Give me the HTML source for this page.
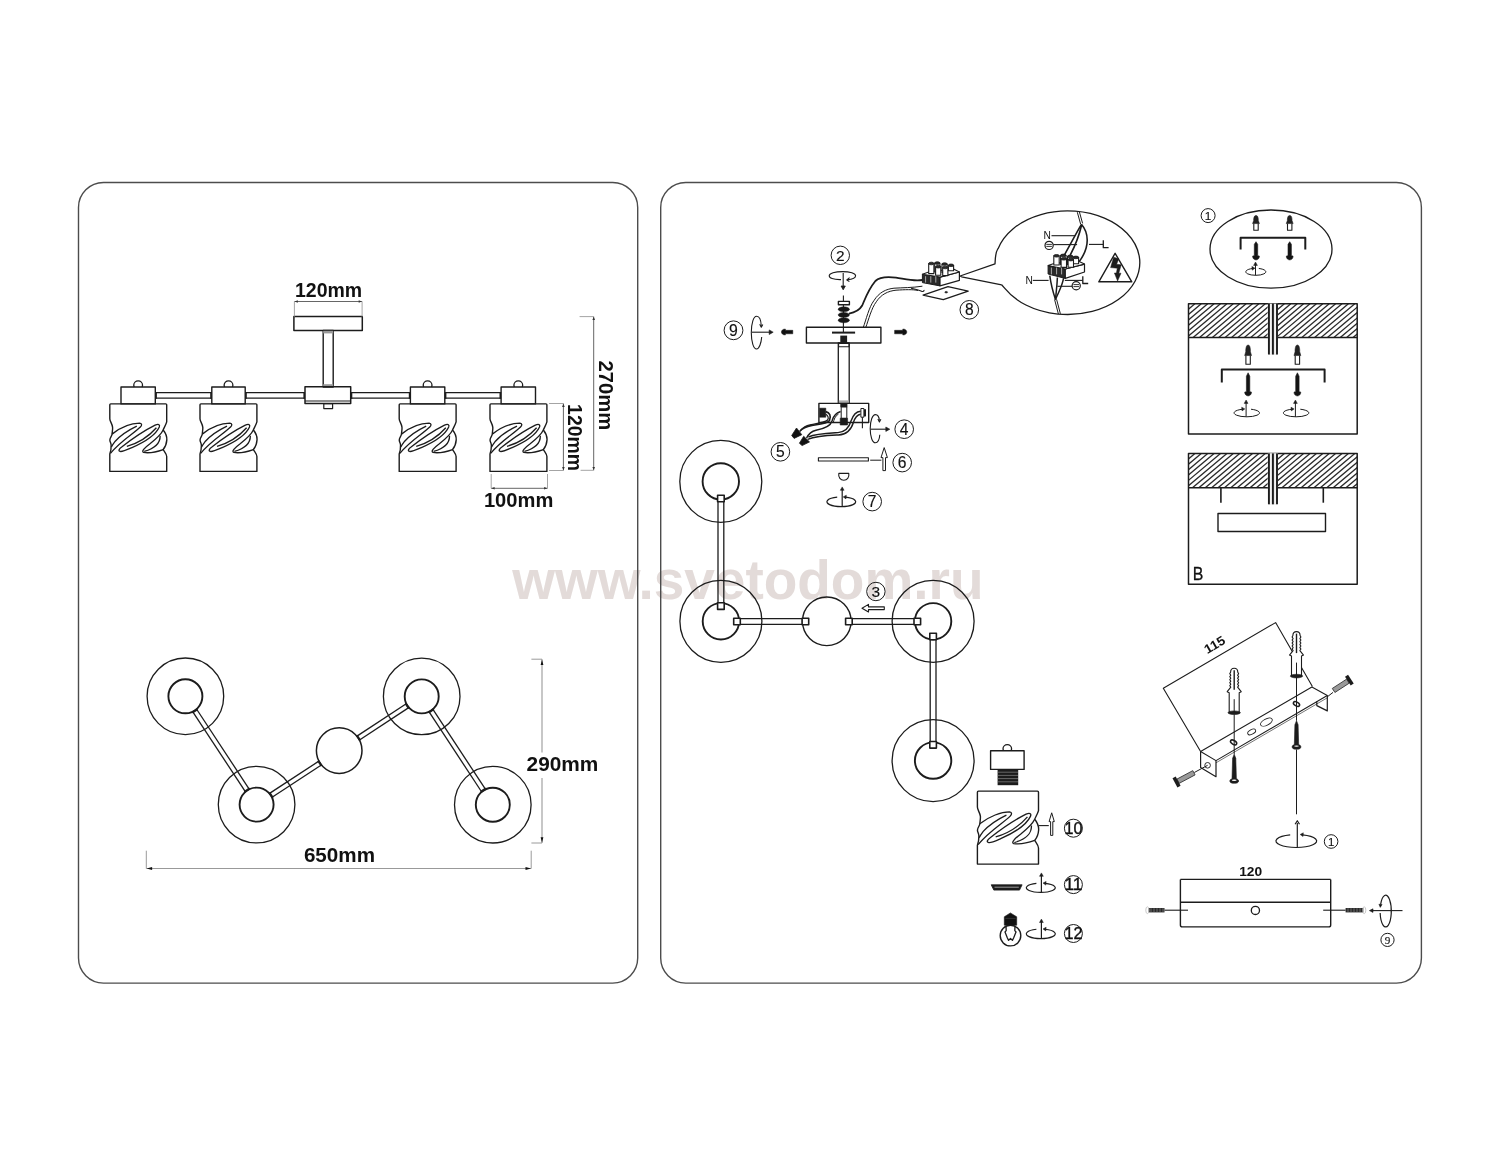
<!DOCTYPE html>
<html><head><meta charset="utf-8"><style>
html,body{margin:0;padding:0;background:#fff;}
svg{display:block;}
</style></head><body>
<svg style="will-change:transform" width="1500" height="1167" viewBox="0 0 1500 1167">
<rect width="1500" height="1167" fill="#fff"/>
<g stroke="#1c1c1c" fill="none" stroke-linecap="butt" stroke-linejoin="round">
<text x="512.3" y="598.5" font-family="&quot;Liberation Sans&quot;, sans-serif" font-size="54.6" font-weight="bold" text-anchor="start" fill="#e3dbd9" stroke="none" textLength="471.2" lengthAdjust="spacingAndGlyphs">www.svetodom.ru</text>
<rect x="78.5" y="182.5" width="559.2" height="800.6" rx="25" stroke="#4c4c4c" stroke-width="1.4"/>
<rect x="660.7" y="182.5" width="760.7" height="800.6" rx="25" stroke="#4c4c4c" stroke-width="1.4"/>
<rect x="293.9" y="316.6" width="68.4" height="13.8" stroke-width="1.5" fill="none"/>
<line x1="294.4" y1="301.5" x2="362.1" y2="301.5" stroke-width="0.9" stroke="#555"/>
<line x1="294.4" y1="301.5" x2="294.4" y2="316.6" stroke-width="0.9" stroke="#9a9a9a"/>
<line x1="362.1" y1="301.5" x2="362.1" y2="316.6" stroke-width="0.9" stroke="#9a9a9a"/>
<text x="295" y="296.5" font-family="&quot;Liberation Sans&quot;, sans-serif" font-size="19.6" font-weight="bold" text-anchor="start" fill="#111" stroke="none" textLength="67.2" lengthAdjust="spacingAndGlyphs">120mm</text>
<path d="M294.6,301.5 L297.8,300.2 L297.8,302.8 Z" fill="#333" stroke="none"/>
<path d="M361.9,301.5 L358.7,302.8 L358.7,300.2 Z" fill="#333" stroke="none"/>
<rect x="323.2" y="330.4" width="10" height="56.6" stroke-width="1.4" fill="none"/>
<rect x="323.2" y="330.8" width="10" height="2.6" stroke-width="0" fill="#999"/>
<rect x="323.2" y="384.2" width="10" height="2.6" stroke-width="0" fill="#999"/>
<rect x="305" y="386.8" width="45.7" height="16.8" stroke-width="1.5" fill="none"/>
<line x1="305" y1="401" x2="350.7" y2="401" stroke-width="1.2"/>
<rect x="323.8" y="403.6" width="8.8" height="5" stroke-width="1.2" fill="none"/>
<line x1="155.3" y1="392.7" x2="211.8" y2="392.7" stroke-width="1.3"/>
<line x1="155.3" y1="398.1" x2="211.8" y2="398.1" stroke-width="1.3"/>
<rect x="155.3" y="392" width="1.6" height="6.8" stroke-width="0" fill="#1c1c1c"/>
<rect x="210.2" y="392" width="1.6" height="6.8" stroke-width="0" fill="#1c1c1c"/>
<line x1="245.2" y1="392.7" x2="305" y2="392.7" stroke-width="1.3"/>
<line x1="245.2" y1="398.1" x2="305" y2="398.1" stroke-width="1.3"/>
<rect x="245.2" y="392" width="1.6" height="6.8" stroke-width="0" fill="#1c1c1c"/>
<rect x="303.4" y="392" width="1.6" height="6.8" stroke-width="0" fill="#1c1c1c"/>
<line x1="350.7" y1="392.7" x2="410.4" y2="392.7" stroke-width="1.3"/>
<line x1="350.7" y1="398.1" x2="410.4" y2="398.1" stroke-width="1.3"/>
<rect x="350.7" y="392" width="1.6" height="6.8" stroke-width="0" fill="#1c1c1c"/>
<rect x="408.8" y="392" width="1.6" height="6.8" stroke-width="0" fill="#1c1c1c"/>
<line x1="444.8" y1="392.7" x2="501.1" y2="392.7" stroke-width="1.3"/>
<line x1="444.8" y1="398.1" x2="501.1" y2="398.1" stroke-width="1.3"/>
<rect x="444.8" y="392" width="1.6" height="6.8" stroke-width="0" fill="#1c1c1c"/>
<rect x="499.5" y="392" width="1.6" height="6.8" stroke-width="0" fill="#1c1c1c"/>
<rect x="121" y="387" width="34.3" height="16.9" stroke-width="1.4" fill="none"/>
<path d="M134.15,387 L133.75,385.2 A4.4,4.4 0 1 1 142.55,385.2 L142.15,387" stroke-width="1.3"/>
<rect x="211.8" y="387" width="33.4" height="16.9" stroke-width="1.4" fill="none"/>
<path d="M224.5,387 L224.1,385.2 A4.4,4.4 0 1 1 232.9,385.2 L232.5,387" stroke-width="1.3"/>
<rect x="410.4" y="387" width="34.4" height="16.9" stroke-width="1.4" fill="none"/>
<path d="M423.6,387 L423.2,385.2 A4.4,4.4 0 1 1 432,385.2 L431.6,387" stroke-width="1.3"/>
<rect x="501.1" y="387" width="34.4" height="16.9" stroke-width="1.4" fill="none"/>
<path d="M514.3,387 L513.9,385.2 A4.4,4.4 0 1 1 522.7,385.2 L522.3,387" stroke-width="1.3"/>
<g transform="translate(109.8 403.9) scale(0.06429 0.06429) translate(-75 -60)">
<path d="M90,60 L945,60 Q960,60 960,75 L960,340 C950,380 920,430 905,465 C950,520 965,560 962,620 C958,680 930,740 905,770 C930,810 960,840 960,880 L960,1110 L75,1110 L75,840 C90,800 98,760 96,700 C92,660 75,650 76,620 C78,580 110,560 110,530 C115,480 122,450 118,420 C108,360 75,330 75,290 L75,75 Q75,60 90,60 Z" stroke-width="1.4" vector-effect="non-scaling-stroke"/>
<path d="M110,530 C250,420 420,360 540,360 C580,365 575,395 550,420 C450,520 250,630 85,830" stroke-width="1.33" vector-effect="non-scaling-stroke"/>
<path d="M495,405 C380,460 250,540 160,640 C130,680 110,710 100,730" stroke-width="1.33" vector-effect="non-scaling-stroke"/>
<path d="M240,800 C200,790 220,760 260,730 C400,620 600,480 780,390 C830,370 860,380 845,420 C800,520 650,640 420,740 C340,775 280,805 240,800 Z" stroke-width="1.33" vector-effect="non-scaling-stroke"/>
<path d="M340,720 C480,680 650,600 800,430" stroke-width="1.33" vector-effect="non-scaling-stroke"/>
<path d="M905,465 C870,540 800,600 700,680 C620,740 560,800 600,815 C700,830 850,790 905,770" stroke-width="1.33" vector-effect="non-scaling-stroke"/>
<path d="M858,555 C860,650 820,740 610,800" stroke-width="1.33" vector-effect="non-scaling-stroke"/>
</g>
<g transform="translate(200 403.9) scale(0.06429 0.06429) translate(-75 -60)">
<path d="M90,60 L945,60 Q960,60 960,75 L960,340 C950,380 920,430 905,465 C950,520 965,560 962,620 C958,680 930,740 905,770 C930,810 960,840 960,880 L960,1110 L75,1110 L75,840 C90,800 98,760 96,700 C92,660 75,650 76,620 C78,580 110,560 110,530 C115,480 122,450 118,420 C108,360 75,330 75,290 L75,75 Q75,60 90,60 Z" stroke-width="1.4" vector-effect="non-scaling-stroke"/>
<path d="M110,530 C250,420 420,360 540,360 C580,365 575,395 550,420 C450,520 250,630 85,830" stroke-width="1.33" vector-effect="non-scaling-stroke"/>
<path d="M495,405 C380,460 250,540 160,640 C130,680 110,710 100,730" stroke-width="1.33" vector-effect="non-scaling-stroke"/>
<path d="M240,800 C200,790 220,760 260,730 C400,620 600,480 780,390 C830,370 860,380 845,420 C800,520 650,640 420,740 C340,775 280,805 240,800 Z" stroke-width="1.33" vector-effect="non-scaling-stroke"/>
<path d="M340,720 C480,680 650,600 800,430" stroke-width="1.33" vector-effect="non-scaling-stroke"/>
<path d="M905,465 C870,540 800,600 700,680 C620,740 560,800 600,815 C700,830 850,790 905,770" stroke-width="1.33" vector-effect="non-scaling-stroke"/>
<path d="M858,555 C860,650 820,740 610,800" stroke-width="1.33" vector-effect="non-scaling-stroke"/>
</g>
<g transform="translate(399.2 403.9) scale(0.06429 0.06429) translate(-75 -60)">
<path d="M90,60 L945,60 Q960,60 960,75 L960,340 C950,380 920,430 905,465 C950,520 965,560 962,620 C958,680 930,740 905,770 C930,810 960,840 960,880 L960,1110 L75,1110 L75,840 C90,800 98,760 96,700 C92,660 75,650 76,620 C78,580 110,560 110,530 C115,480 122,450 118,420 C108,360 75,330 75,290 L75,75 Q75,60 90,60 Z" stroke-width="1.4" vector-effect="non-scaling-stroke"/>
<path d="M110,530 C250,420 420,360 540,360 C580,365 575,395 550,420 C450,520 250,630 85,830" stroke-width="1.33" vector-effect="non-scaling-stroke"/>
<path d="M495,405 C380,460 250,540 160,640 C130,680 110,710 100,730" stroke-width="1.33" vector-effect="non-scaling-stroke"/>
<path d="M240,800 C200,790 220,760 260,730 C400,620 600,480 780,390 C830,370 860,380 845,420 C800,520 650,640 420,740 C340,775 280,805 240,800 Z" stroke-width="1.33" vector-effect="non-scaling-stroke"/>
<path d="M340,720 C480,680 650,600 800,430" stroke-width="1.33" vector-effect="non-scaling-stroke"/>
<path d="M905,465 C870,540 800,600 700,680 C620,740 560,800 600,815 C700,830 850,790 905,770" stroke-width="1.33" vector-effect="non-scaling-stroke"/>
<path d="M858,555 C860,650 820,740 610,800" stroke-width="1.33" vector-effect="non-scaling-stroke"/>
</g>
<g transform="translate(490 403.9) scale(0.06429 0.06429) translate(-75 -60)">
<path d="M90,60 L945,60 Q960,60 960,75 L960,340 C950,380 920,430 905,465 C950,520 965,560 962,620 C958,680 930,740 905,770 C930,810 960,840 960,880 L960,1110 L75,1110 L75,840 C90,800 98,760 96,700 C92,660 75,650 76,620 C78,580 110,560 110,530 C115,480 122,450 118,420 C108,360 75,330 75,290 L75,75 Q75,60 90,60 Z" stroke-width="1.4" vector-effect="non-scaling-stroke"/>
<path d="M110,530 C250,420 420,360 540,360 C580,365 575,395 550,420 C450,520 250,630 85,830" stroke-width="1.33" vector-effect="non-scaling-stroke"/>
<path d="M495,405 C380,460 250,540 160,640 C130,680 110,710 100,730" stroke-width="1.33" vector-effect="non-scaling-stroke"/>
<path d="M240,800 C200,790 220,760 260,730 C400,620 600,480 780,390 C830,370 860,380 845,420 C800,520 650,640 420,740 C340,775 280,805 240,800 Z" stroke-width="1.33" vector-effect="non-scaling-stroke"/>
<path d="M340,720 C480,680 650,600 800,430" stroke-width="1.33" vector-effect="non-scaling-stroke"/>
<path d="M905,465 C870,540 800,600 700,680 C620,740 560,800 600,815 C700,830 850,790 905,770" stroke-width="1.33" vector-effect="non-scaling-stroke"/>
<path d="M858,555 C860,650 820,740 610,800" stroke-width="1.33" vector-effect="non-scaling-stroke"/>
</g>
<line x1="563.4" y1="403.5" x2="563.4" y2="470.5" stroke-width="0.9" stroke="#555"/>
<line x1="549" y1="403.5" x2="563.4" y2="403.5" stroke-width="0.9" stroke="#9a9a9a"/>
<line x1="549" y1="470.5" x2="563.4" y2="470.5" stroke-width="0.9" stroke="#9a9a9a"/>
<text x="568.4" y="404.1" font-family="&quot;Liberation Sans&quot;, sans-serif" font-size="19.4" font-weight="bold" text-anchor="start" fill="#111" stroke="none" textLength="66.9" lengthAdjust="spacingAndGlyphs" transform="rotate(90 568.4 404.1)">120mm</text>
<line x1="593.7" y1="316.6" x2="593.7" y2="470.3" stroke-width="0.9" stroke="#555"/>
<line x1="579.6" y1="316.6" x2="593.7" y2="316.6" stroke-width="0.9" stroke="#9a9a9a"/>
<line x1="580.6" y1="470.3" x2="593.7" y2="470.3" stroke-width="0.9" stroke="#9a9a9a"/>
<text x="598.5" y="360.6" font-family="&quot;Liberation Sans&quot;, sans-serif" font-size="20.6" font-weight="bold" text-anchor="start" fill="#111" stroke="none" textLength="69.7" lengthAdjust="spacingAndGlyphs" transform="rotate(90 598.5 360.6)">270mm</text>
<path d="M593.7,316.8 L595,320 L592.4,320 Z" fill="#333" stroke="none"/>
<path d="M593.7,470.1 L592.4,466.9 L595,466.9 Z" fill="#333" stroke="none"/>
<path d="M563.4,403.7 L564.7,406.9 L562.1,406.9 Z" fill="#333" stroke="none"/>
<path d="M563.4,470.3 L562.1,467.1 L564.7,467.1 Z" fill="#333" stroke="none"/>
<line x1="491.2" y1="488.3" x2="547.5" y2="488.3" stroke-width="0.9" stroke="#555"/>
<line x1="491.2" y1="474" x2="491.2" y2="488.3" stroke-width="0.9" stroke="#9a9a9a"/>
<line x1="547.5" y1="474" x2="547.5" y2="488.3" stroke-width="0.9" stroke="#9a9a9a"/>
<text x="483.9" y="507" font-family="&quot;Liberation Sans&quot;, sans-serif" font-size="19.6" font-weight="bold" text-anchor="start" fill="#111" stroke="none" textLength="69.4" lengthAdjust="spacingAndGlyphs">100mm</text>
<path d="M491.4,488.3 L494.6,487 L494.6,489.6 Z" fill="#333" stroke="none"/>
<path d="M547.3,488.3 L544.1,489.6 L544.1,487 Z" fill="#333" stroke="none"/>
<circle cx="185.4" cy="696.3" r="38.3" stroke-width="1.3" fill="none"/>
<circle cx="185.4" cy="696.3" r="17" stroke-width="1.9" fill="none"/>
<circle cx="256.6" cy="804.6" r="38.3" stroke-width="1.3" fill="none"/>
<circle cx="256.6" cy="804.6" r="17" stroke-width="1.9" fill="none"/>
<circle cx="421.7" cy="696.4" r="38.3" stroke-width="1.3" fill="none"/>
<circle cx="421.7" cy="696.4" r="17" stroke-width="1.9" fill="none"/>
<circle cx="492.8" cy="804.7" r="38.3" stroke-width="1.3" fill="none"/>
<circle cx="492.8" cy="804.7" r="17" stroke-width="1.9" fill="none"/>
<circle cx="339.2" cy="750.6" r="22.8" stroke-width="1.5" fill="none"/>
<line x1="196.66" y1="709.24" x2="249.18" y2="789.13" stroke-width="1.3"/>
<line x1="192.82" y1="711.77" x2="245.34" y2="791.66" stroke-width="1.3"/>
<line x1="197.49" y1="709.05" x2="192.31" y2="712.46" stroke-width="2.2"/>
<line x1="249.69" y1="788.44" x2="244.51" y2="791.85" stroke-width="2.2"/>
<line x1="269.57" y1="793.37" x2="318.86" y2="761.15" stroke-width="1.3"/>
<line x1="272.09" y1="797.22" x2="321.37" y2="765" stroke-width="1.3"/>
<line x1="269.38" y1="792.54" x2="272.78" y2="797.73" stroke-width="2.2"/>
<line x1="318.17" y1="760.65" x2="321.56" y2="765.83" stroke-width="2.2"/>
<line x1="356.99" y1="736.16" x2="406.23" y2="703.81" stroke-width="1.3"/>
<line x1="359.52" y1="740" x2="408.75" y2="707.66" stroke-width="1.3"/>
<line x1="356.8" y1="735.33" x2="360.21" y2="740.51" stroke-width="2.2"/>
<line x1="405.54" y1="703.31" x2="408.94" y2="708.49" stroke-width="2.2"/>
<line x1="432.95" y1="709.35" x2="485.39" y2="789.23" stroke-width="1.3"/>
<line x1="429.11" y1="711.87" x2="481.55" y2="791.75" stroke-width="1.3"/>
<line x1="433.79" y1="709.16" x2="428.6" y2="712.56" stroke-width="2.2"/>
<line x1="485.9" y1="788.54" x2="480.71" y2="791.94" stroke-width="2.2"/>
<line x1="542" y1="659.2" x2="542" y2="752.6" stroke-width="1.1" stroke="#999"/>
<line x1="542" y1="778.1" x2="542" y2="843" stroke-width="1.1" stroke="#999"/>
<line x1="531.4" y1="659.2" x2="542" y2="659.2" stroke-width="1.0" stroke="#9a9a9a"/>
<line x1="531.4" y1="843" x2="542" y2="843" stroke-width="1.0" stroke="#9a9a9a"/>
<text x="526.6" y="770.6" font-family="&quot;Liberation Sans&quot;, sans-serif" font-size="20.4" font-weight="bold" text-anchor="start" fill="#111" stroke="none" textLength="71.8" lengthAdjust="spacingAndGlyphs">290mm</text>
<line x1="146.3" y1="868.5" x2="531.2" y2="868.5" stroke-width="1.1" stroke="#999"/>
<line x1="146.3" y1="850.7" x2="146.3" y2="868.5" stroke-width="1.0" stroke="#9a9a9a"/>
<line x1="531.2" y1="850.7" x2="531.2" y2="868.5" stroke-width="1.0" stroke="#9a9a9a"/>
<text x="303.9" y="862" font-family="&quot;Liberation Sans&quot;, sans-serif" font-size="20.4" font-weight="bold" text-anchor="start" fill="#111" stroke="none" textLength="71.1" lengthAdjust="spacingAndGlyphs">650mm</text>
<path d="M146.6,868.5 L152.1,867.1 L152.1,869.9 Z" fill="#111" stroke="none"/>
<path d="M531,868.5 L525.5,869.9 L525.5,867.1 Z" fill="#111" stroke="none"/>
<path d="M542,659.4 L543.4,664.9 L540.6,664.9 Z" fill="#111" stroke="none"/>
<path d="M542,842.8 L540.6,837.3 L543.4,837.3 Z" fill="#111" stroke="none"/>
<circle cx="720.8" cy="481.4" r="41" stroke-width="1.3" fill="none"/>
<circle cx="720.8" cy="481.4" r="18.2" stroke-width="1.9" fill="none"/>
<circle cx="720.9" cy="621.3" r="41" stroke-width="1.3" fill="none"/>
<circle cx="720.9" cy="621.3" r="18.2" stroke-width="1.9" fill="none"/>
<circle cx="933.1" cy="621.3" r="41" stroke-width="1.3" fill="none"/>
<circle cx="933.1" cy="621.3" r="18.2" stroke-width="1.9" fill="none"/>
<circle cx="933.1" cy="760.6" r="41" stroke-width="1.3" fill="none"/>
<circle cx="933.1" cy="760.6" r="18.2" stroke-width="1.9" fill="none"/>
<circle cx="826.8" cy="621.3" r="24.3" stroke-width="1.4" fill="none"/>
<line x1="718" y1="495.5" x2="718" y2="606.5" stroke-width="1.3"/>
<line x1="723.8" y1="495.5" x2="723.8" y2="606.5" stroke-width="1.3"/>
<rect x="717.6" y="495.2" width="6.6" height="6.6" stroke-width="1.6" fill="#fff"/>
<rect x="717.6" y="602.8" width="6.6" height="6.6" stroke-width="1.6" fill="#fff"/>
<line x1="737" y1="618.7" x2="805.5" y2="618.7" stroke-width="1.3"/>
<line x1="737" y1="624.3" x2="805.5" y2="624.3" stroke-width="1.3"/>
<rect x="733.7" y="618.2" width="6.6" height="6.6" stroke-width="1.6" fill="#fff"/>
<rect x="802.1" y="618.2" width="6.6" height="6.6" stroke-width="1.6" fill="#fff"/>
<line x1="848.9" y1="618.7" x2="917.5" y2="618.7" stroke-width="1.3"/>
<line x1="848.9" y1="624.3" x2="917.5" y2="624.3" stroke-width="1.3"/>
<rect x="845.6" y="618.2" width="6.6" height="6.6" stroke-width="1.6" fill="#fff"/>
<rect x="914" y="618.2" width="6.6" height="6.6" stroke-width="1.6" fill="#fff"/>
<line x1="930.2" y1="636.5" x2="930.2" y2="744.5" stroke-width="1.3"/>
<line x1="936" y1="636.5" x2="936" y2="744.5" stroke-width="1.3"/>
<rect x="929.8" y="633.2" width="6.6" height="6.6" stroke-width="1.6" fill="#fff"/>
<rect x="929.8" y="741.5" width="6.6" height="6.6" stroke-width="1.6" fill="#fff"/>
<circle cx="875.9" cy="591.5" r="9.2" stroke-width="1.0" fill="none"/>
<text x="875.9" y="596.99" font-family="&quot;Liberation Sans&quot;, sans-serif" font-size="15.46" font-weight="normal" text-anchor="middle" fill="#111" stroke="#111" stroke-width="0.15">3</text>
<path d="M862,608.2 L868.5,604.4 L868.5,606.9 L884.3,606.9 L884.3,609.6 L868.5,609.6 L868.5,612 Z" stroke-width="1.1" fill="none" />
<clipPath id="hc1188_303"><rect x="1188.5" y="303.8" width="79.3" height="33.7"/></clipPath>
<g clip-path="url(#hc1188_303)">
<line x1="1148.34" y1="337.5" x2="1188.5" y2="303.8" stroke-width="1.3" stroke="#2a2a2a"/>
<line x1="1154.74" y1="337.5" x2="1194.9" y2="303.8" stroke-width="1.3" stroke="#2a2a2a"/>
<line x1="1161.14" y1="337.5" x2="1201.3" y2="303.8" stroke-width="1.3" stroke="#2a2a2a"/>
<line x1="1167.54" y1="337.5" x2="1207.7" y2="303.8" stroke-width="1.3" stroke="#2a2a2a"/>
<line x1="1173.94" y1="337.5" x2="1214.1" y2="303.8" stroke-width="1.3" stroke="#2a2a2a"/>
<line x1="1180.34" y1="337.5" x2="1220.5" y2="303.8" stroke-width="1.3" stroke="#2a2a2a"/>
<line x1="1186.74" y1="337.5" x2="1226.9" y2="303.8" stroke-width="1.3" stroke="#2a2a2a"/>
<line x1="1193.14" y1="337.5" x2="1233.3" y2="303.8" stroke-width="1.3" stroke="#2a2a2a"/>
<line x1="1199.54" y1="337.5" x2="1239.7" y2="303.8" stroke-width="1.3" stroke="#2a2a2a"/>
<line x1="1205.94" y1="337.5" x2="1246.1" y2="303.8" stroke-width="1.3" stroke="#2a2a2a"/>
<line x1="1212.34" y1="337.5" x2="1252.5" y2="303.8" stroke-width="1.3" stroke="#2a2a2a"/>
<line x1="1218.74" y1="337.5" x2="1258.9" y2="303.8" stroke-width="1.3" stroke="#2a2a2a"/>
<line x1="1225.14" y1="337.5" x2="1265.3" y2="303.8" stroke-width="1.3" stroke="#2a2a2a"/>
<line x1="1231.54" y1="337.5" x2="1271.7" y2="303.8" stroke-width="1.3" stroke="#2a2a2a"/>
<line x1="1237.94" y1="337.5" x2="1278.1" y2="303.8" stroke-width="1.3" stroke="#2a2a2a"/>
<line x1="1244.34" y1="337.5" x2="1284.5" y2="303.8" stroke-width="1.3" stroke="#2a2a2a"/>
<line x1="1250.74" y1="337.5" x2="1290.9" y2="303.8" stroke-width="1.3" stroke="#2a2a2a"/>
<line x1="1257.14" y1="337.5" x2="1297.3" y2="303.8" stroke-width="1.3" stroke="#2a2a2a"/>
<line x1="1263.54" y1="337.5" x2="1303.7" y2="303.8" stroke-width="1.3" stroke="#2a2a2a"/>
<line x1="1269.94" y1="337.5" x2="1310.1" y2="303.8" stroke-width="1.3" stroke="#2a2a2a"/>
</g>
<clipPath id="hc1278_303"><rect x="1278" y="303.8" width="79.2" height="33.7"/></clipPath>
<g clip-path="url(#hc1278_303)">
<line x1="1237.84" y1="337.5" x2="1278" y2="303.8" stroke-width="1.3" stroke="#2a2a2a"/>
<line x1="1244.24" y1="337.5" x2="1284.4" y2="303.8" stroke-width="1.3" stroke="#2a2a2a"/>
<line x1="1250.64" y1="337.5" x2="1290.8" y2="303.8" stroke-width="1.3" stroke="#2a2a2a"/>
<line x1="1257.04" y1="337.5" x2="1297.2" y2="303.8" stroke-width="1.3" stroke="#2a2a2a"/>
<line x1="1263.44" y1="337.5" x2="1303.6" y2="303.8" stroke-width="1.3" stroke="#2a2a2a"/>
<line x1="1269.84" y1="337.5" x2="1310" y2="303.8" stroke-width="1.3" stroke="#2a2a2a"/>
<line x1="1276.24" y1="337.5" x2="1316.4" y2="303.8" stroke-width="1.3" stroke="#2a2a2a"/>
<line x1="1282.64" y1="337.5" x2="1322.8" y2="303.8" stroke-width="1.3" stroke="#2a2a2a"/>
<line x1="1289.04" y1="337.5" x2="1329.2" y2="303.8" stroke-width="1.3" stroke="#2a2a2a"/>
<line x1="1295.44" y1="337.5" x2="1335.6" y2="303.8" stroke-width="1.3" stroke="#2a2a2a"/>
<line x1="1301.84" y1="337.5" x2="1342" y2="303.8" stroke-width="1.3" stroke="#2a2a2a"/>
<line x1="1308.24" y1="337.5" x2="1348.4" y2="303.8" stroke-width="1.3" stroke="#2a2a2a"/>
<line x1="1314.64" y1="337.5" x2="1354.8" y2="303.8" stroke-width="1.3" stroke="#2a2a2a"/>
<line x1="1321.04" y1="337.5" x2="1361.2" y2="303.8" stroke-width="1.3" stroke="#2a2a2a"/>
<line x1="1327.44" y1="337.5" x2="1367.6" y2="303.8" stroke-width="1.3" stroke="#2a2a2a"/>
<line x1="1333.84" y1="337.5" x2="1374" y2="303.8" stroke-width="1.3" stroke="#2a2a2a"/>
<line x1="1340.24" y1="337.5" x2="1380.4" y2="303.8" stroke-width="1.3" stroke="#2a2a2a"/>
<line x1="1346.64" y1="337.5" x2="1386.8" y2="303.8" stroke-width="1.3" stroke="#2a2a2a"/>
<line x1="1353.04" y1="337.5" x2="1393.2" y2="303.8" stroke-width="1.3" stroke="#2a2a2a"/>
<line x1="1359.44" y1="337.5" x2="1399.6" y2="303.8" stroke-width="1.3" stroke="#2a2a2a"/>
</g>
<rect x="1188.5" y="303.8" width="168.7" height="130.1" stroke-width="1.5" fill="none"/>
<line x1="1188.5" y1="337.5" x2="1357.2" y2="337.5" stroke-width="1.6"/>
<rect x="1267.8" y="303.8" width="10.2" height="33.7" stroke-width="0" fill="#fff"/>
<rect x="1268.6" y="303.8" width="8.8" height="50.7" stroke-width="0" fill="#c8c8c8"/>
<rect x="1270.2" y="303.8" width="1.4" height="50.7" stroke-width="0" fill="#fff"/>
<rect x="1274.4" y="303.8" width="1.4" height="50.7" stroke-width="0" fill="#fff"/>
<line x1="1268.9" y1="303.8" x2="1268.9" y2="354.5" stroke-width="1.9"/>
<line x1="1272.9" y1="303.8" x2="1272.9" y2="354.5" stroke-width="1.9"/>
<line x1="1277" y1="303.8" x2="1277" y2="354.5" stroke-width="1.9"/>
<clipPath id="hc1188_453"><rect x="1188.5" y="453.5" width="79.3" height="34.3"/></clipPath>
<g clip-path="url(#hc1188_453)">
<line x1="1147.62" y1="487.8" x2="1188.5" y2="453.5" stroke-width="1.3" stroke="#2a2a2a"/>
<line x1="1154.02" y1="487.8" x2="1194.9" y2="453.5" stroke-width="1.3" stroke="#2a2a2a"/>
<line x1="1160.42" y1="487.8" x2="1201.3" y2="453.5" stroke-width="1.3" stroke="#2a2a2a"/>
<line x1="1166.82" y1="487.8" x2="1207.7" y2="453.5" stroke-width="1.3" stroke="#2a2a2a"/>
<line x1="1173.22" y1="487.8" x2="1214.1" y2="453.5" stroke-width="1.3" stroke="#2a2a2a"/>
<line x1="1179.62" y1="487.8" x2="1220.5" y2="453.5" stroke-width="1.3" stroke="#2a2a2a"/>
<line x1="1186.02" y1="487.8" x2="1226.9" y2="453.5" stroke-width="1.3" stroke="#2a2a2a"/>
<line x1="1192.42" y1="487.8" x2="1233.3" y2="453.5" stroke-width="1.3" stroke="#2a2a2a"/>
<line x1="1198.82" y1="487.8" x2="1239.7" y2="453.5" stroke-width="1.3" stroke="#2a2a2a"/>
<line x1="1205.22" y1="487.8" x2="1246.1" y2="453.5" stroke-width="1.3" stroke="#2a2a2a"/>
<line x1="1211.62" y1="487.8" x2="1252.5" y2="453.5" stroke-width="1.3" stroke="#2a2a2a"/>
<line x1="1218.02" y1="487.8" x2="1258.9" y2="453.5" stroke-width="1.3" stroke="#2a2a2a"/>
<line x1="1224.42" y1="487.8" x2="1265.3" y2="453.5" stroke-width="1.3" stroke="#2a2a2a"/>
<line x1="1230.82" y1="487.8" x2="1271.7" y2="453.5" stroke-width="1.3" stroke="#2a2a2a"/>
<line x1="1237.22" y1="487.8" x2="1278.1" y2="453.5" stroke-width="1.3" stroke="#2a2a2a"/>
<line x1="1243.62" y1="487.8" x2="1284.5" y2="453.5" stroke-width="1.3" stroke="#2a2a2a"/>
<line x1="1250.02" y1="487.8" x2="1290.9" y2="453.5" stroke-width="1.3" stroke="#2a2a2a"/>
<line x1="1256.42" y1="487.8" x2="1297.3" y2="453.5" stroke-width="1.3" stroke="#2a2a2a"/>
<line x1="1262.82" y1="487.8" x2="1303.7" y2="453.5" stroke-width="1.3" stroke="#2a2a2a"/>
<line x1="1269.22" y1="487.8" x2="1310.1" y2="453.5" stroke-width="1.3" stroke="#2a2a2a"/>
</g>
<clipPath id="hc1278_453"><rect x="1278" y="453.5" width="79.2" height="34.3"/></clipPath>
<g clip-path="url(#hc1278_453)">
<line x1="1237.12" y1="487.8" x2="1278" y2="453.5" stroke-width="1.3" stroke="#2a2a2a"/>
<line x1="1243.52" y1="487.8" x2="1284.4" y2="453.5" stroke-width="1.3" stroke="#2a2a2a"/>
<line x1="1249.92" y1="487.8" x2="1290.8" y2="453.5" stroke-width="1.3" stroke="#2a2a2a"/>
<line x1="1256.32" y1="487.8" x2="1297.2" y2="453.5" stroke-width="1.3" stroke="#2a2a2a"/>
<line x1="1262.72" y1="487.8" x2="1303.6" y2="453.5" stroke-width="1.3" stroke="#2a2a2a"/>
<line x1="1269.12" y1="487.8" x2="1310" y2="453.5" stroke-width="1.3" stroke="#2a2a2a"/>
<line x1="1275.52" y1="487.8" x2="1316.4" y2="453.5" stroke-width="1.3" stroke="#2a2a2a"/>
<line x1="1281.92" y1="487.8" x2="1322.8" y2="453.5" stroke-width="1.3" stroke="#2a2a2a"/>
<line x1="1288.32" y1="487.8" x2="1329.2" y2="453.5" stroke-width="1.3" stroke="#2a2a2a"/>
<line x1="1294.72" y1="487.8" x2="1335.6" y2="453.5" stroke-width="1.3" stroke="#2a2a2a"/>
<line x1="1301.12" y1="487.8" x2="1342" y2="453.5" stroke-width="1.3" stroke="#2a2a2a"/>
<line x1="1307.52" y1="487.8" x2="1348.4" y2="453.5" stroke-width="1.3" stroke="#2a2a2a"/>
<line x1="1313.92" y1="487.8" x2="1354.8" y2="453.5" stroke-width="1.3" stroke="#2a2a2a"/>
<line x1="1320.32" y1="487.8" x2="1361.2" y2="453.5" stroke-width="1.3" stroke="#2a2a2a"/>
<line x1="1326.72" y1="487.8" x2="1367.6" y2="453.5" stroke-width="1.3" stroke="#2a2a2a"/>
<line x1="1333.12" y1="487.8" x2="1374" y2="453.5" stroke-width="1.3" stroke="#2a2a2a"/>
<line x1="1339.52" y1="487.8" x2="1380.4" y2="453.5" stroke-width="1.3" stroke="#2a2a2a"/>
<line x1="1345.92" y1="487.8" x2="1386.8" y2="453.5" stroke-width="1.3" stroke="#2a2a2a"/>
<line x1="1352.32" y1="487.8" x2="1393.2" y2="453.5" stroke-width="1.3" stroke="#2a2a2a"/>
<line x1="1358.72" y1="487.8" x2="1399.6" y2="453.5" stroke-width="1.3" stroke="#2a2a2a"/>
</g>
<rect x="1188.5" y="453.5" width="168.7" height="130.7" stroke-width="1.5" fill="none"/>
<line x1="1188.5" y1="487.8" x2="1357.2" y2="487.8" stroke-width="1.6"/>
<rect x="1267.8" y="453.5" width="10.2" height="34.3" stroke-width="0" fill="#fff"/>
<rect x="1268.6" y="453.5" width="8.8" height="50.8" stroke-width="0" fill="#c8c8c8"/>
<rect x="1270.2" y="453.5" width="1.4" height="50.8" stroke-width="0" fill="#fff"/>
<rect x="1274.4" y="453.5" width="1.4" height="50.8" stroke-width="0" fill="#fff"/>
<line x1="1268.9" y1="453.5" x2="1268.9" y2="504.3" stroke-width="1.9"/>
<line x1="1272.9" y1="453.5" x2="1272.9" y2="504.3" stroke-width="1.9"/>
<line x1="1277" y1="453.5" x2="1277" y2="504.3" stroke-width="1.9"/>
<line x1="1220.9" y1="487.8" x2="1220.9" y2="502.7" stroke-width="1.6"/>
<line x1="1323.3" y1="487.8" x2="1323.3" y2="502.7" stroke-width="1.6"/>
<rect x="1218" y="513.5" width="107.5" height="18" stroke-width="1.4" fill="none"/>
<text x="1192.7" y="579.7" font-family="&quot;Liberation Sans&quot;, sans-serif" font-size="18.6" font-weight="normal" text-anchor="start" fill="#111" stroke="#111" stroke-width="0.3" textLength="10.6" lengthAdjust="spacingAndGlyphs">B</text>
<path d="M1245.9,355.56 L1245.9,364.2 L1250.3,364.2 L1250.3,355.56" stroke-width="1.1"/>
<path d="M1248.1,345 C1250.3,345 1250.5,349.8 1250.4,351.72 L1251.5,355.56 L1244.7,355.56 L1245.8,351.72 C1245.7,349.8 1245.9,345 1248.1,345 Z" fill="#222" stroke-width="0.6"/>
<path d="M1248.1,372.8 L1249.8,376.18 L1249.8,391.7 L1251.5,392.1 C1251.5,394.7 1249.7,395.9 1248.1,395.9 C1246.5,395.9 1244.7,394.7 1244.7,392.1 L1246.4,391.7 L1246.4,376.18 Z" fill="#141414" stroke-width="0.6"/>
<path d="M1251,409.22 A12.7,3.9 0 1 1 1242.6,409.22" stroke-width="1.0"/>
<path d="M1244.8,408.92 L1241.7,407.22 L1242,410.92 Z" fill="#1c1c1c" stroke-width="0.5"/>
<line x1="1246.1" y1="416.8" x2="1246.1" y2="402.2" stroke-width="1.0"/>
<path d="M1244.2,403.4 L1246.1,400 L1248,403.4 Z" fill="#1c1c1c" stroke-width="0.5"/>
<path d="M1295.2,355.56 L1295.2,364.2 L1299.6,364.2 L1299.6,355.56" stroke-width="1.1"/>
<path d="M1297.4,345 C1299.6,345 1299.8,349.8 1299.7,351.72 L1300.8,355.56 L1294,355.56 L1295.1,351.72 C1295,349.8 1295.2,345 1297.4,345 Z" fill="#222" stroke-width="0.6"/>
<path d="M1297.4,372.8 L1299.1,376.18 L1299.1,391.7 L1300.8,392.1 C1300.8,394.7 1299,395.9 1297.4,395.9 C1295.8,395.9 1294,394.7 1294,392.1 L1295.7,391.7 L1295.7,376.18 Z" fill="#141414" stroke-width="0.6"/>
<path d="M1300.3,409.22 A12.7,3.9 0 1 1 1291.9,409.22" stroke-width="1.0"/>
<path d="M1294.1,408.92 L1291,407.22 L1291.3,410.92 Z" fill="#1c1c1c" stroke-width="0.5"/>
<line x1="1295.4" y1="416.8" x2="1295.4" y2="402.2" stroke-width="1.0"/>
<path d="M1293.5,403.4 L1295.4,400 L1297.3,403.4 Z" fill="#1c1c1c" stroke-width="0.5"/>
<path d="M1221.8,382.4 L1221.8,369.6 L1324.6,369.6 L1324.6,382.4" stroke-width="2.0" fill="none" />
<ellipse cx="1271" cy="249.1" rx="61" ry="39.1" stroke-width="1.3"/>
<circle cx="1208.1" cy="215.6" r="7" stroke-width="1.0" fill="none"/>
<text x="1208.1" y="219.77" font-family="&quot;Liberation Sans&quot;, sans-serif" font-size="11.76" font-weight="normal" text-anchor="middle" fill="#111" stroke="#111" stroke-width="0.15">1</text>
<path d="M1253.8,223.59 L1253.8,230.3 L1258.2,230.3 L1258.2,223.59" stroke-width="1.1"/>
<path d="M1256,215.4 C1258.2,215.4 1258.4,219.12 1258.3,220.62 L1259.4,223.59 L1252.6,223.59 L1253.7,220.62 C1253.6,219.12 1253.8,215.4 1256,215.4 Z" fill="#222" stroke-width="0.6"/>
<path d="M1256,241.7 L1257.7,244.34 L1257.7,255.7 L1259.4,256.1 C1259.4,258.7 1257.6,259.9 1256,259.9 C1254.4,259.9 1252.6,258.7 1252.6,256.1 L1254.3,255.7 L1254.3,244.34 Z" fill="#141414" stroke-width="0.6"/>
<path d="M1287.5,223.59 L1287.5,230.3 L1291.9,230.3 L1291.9,223.59" stroke-width="1.1"/>
<path d="M1289.7,215.4 C1291.9,215.4 1292.1,219.12 1292,220.62 L1293.1,223.59 L1286.3,223.59 L1287.4,220.62 C1287.3,219.12 1287.5,215.4 1289.7,215.4 Z" fill="#222" stroke-width="0.6"/>
<path d="M1289.7,241.7 L1291.4,244.34 L1291.4,255.7 L1293.1,256.1 C1293.1,258.7 1291.3,259.9 1289.7,259.9 C1288.1,259.9 1286.3,258.7 1286.3,256.1 L1288,255.7 L1288,244.34 Z" fill="#141414" stroke-width="0.6"/>
<path d="M1240.6,249.6 L1240.6,237.8 L1305.3,237.8 L1305.3,249.6" stroke-width="2.0" fill="none" />
<path d="M1258.8,268.46 A10,3.5 0 1 1 1252.8,268.46" stroke-width="1.0"/>
<path d="M1255,268.16 L1251.9,266.46 L1252.2,270.16 Z" fill="#1c1c1c" stroke-width="0.5"/>
<line x1="1255.5" y1="275.3" x2="1255.5" y2="264.2" stroke-width="1.0"/>
<path d="M1253.6,265.4 L1255.5,262 L1257.4,265.4 Z" fill="#1c1c1c" stroke-width="0.5"/>
<circle cx="840.3" cy="255.3" r="9.2" stroke-width="1.0" fill="none"/>
<text x="840.3" y="260.79" font-family="&quot;Liberation Sans&quot;, sans-serif" font-size="15.46" font-weight="normal" text-anchor="middle" fill="#111" stroke="#111" stroke-width="0.15">2</text>
<path d="M841,279.6 C833,279.8 829.2,278 829.2,275.8 C829.2,273.4 835,271.6 842.4,271.6 C850,271.6 855.6,273.4 855.6,275.8 C855.6,277.8 852,279.4 847.2,279.8" stroke-width="1.1" fill="none" />
<path d="M849.6,277.6 L846.8,279.9 L849.4,281.4" stroke-width="1.1" fill="none" />
<line x1="843.2" y1="273" x2="843.2" y2="287" stroke-width="1.1"/>
<path d="M841.1,286 L845.3,286 L843.2,289.8 Z" stroke-width="0.8" fill="#1c1c1c" />
<line x1="843.4" y1="295.6" x2="843.4" y2="332" stroke-width="1.1"/>
<rect x="838.4" y="301.4" width="11" height="3.4" stroke-width="1.4" fill="#fff"/>
<ellipse cx="843.8" cy="309.3" rx="5.6" ry="2.45" fill="#161616" stroke-width="0.5"/>
<ellipse cx="843.8" cy="314.9" rx="5.6" ry="2.45" fill="#161616" stroke-width="0.5"/>
<ellipse cx="843.8" cy="320.3" rx="5.6" ry="2.45" fill="#161616" stroke-width="0.5"/>
<rect x="806.4" y="327.3" width="74.5" height="15.7" stroke-width="1.4" fill="none"/>
<line x1="832" y1="332.6" x2="855.1" y2="332.6" stroke-width="2.0"/>
<rect x="840.3" y="335.6" width="6.8" height="7.4" stroke-width="0" fill="#1c1c1c"/>
<rect x="838.3" y="343" width="10.9" height="60.4" stroke-width="1.3" fill="none"/>
<rect x="838.6" y="343.4" width="10.3" height="3.4" stroke-width="1.1" fill="#fff"/>
<rect x="838.8" y="400.4" width="10" height="2.6" stroke-width="0" fill="#aaa"/>
<path d="M785.4,329.0 C782.6,329.0 781.4,330.6 781.4,332.0 C781.4,333.4 782.6,335.0 785.4,335.0 L785.4,333.8 L792.8,333.8 L792.8,330.3 L785.4,330.3 Z" stroke-width="0.5" fill="#111" />
<path d="M902.8,329.0 C905.6,329.0 906.8,330.6 906.8,332.0 C906.8,333.4 905.6,335.0 902.8,335.0 L902.8,333.8 L894.6,333.8 L894.6,330.3 L902.8,330.3 Z" stroke-width="0.5" fill="#111" />
<circle cx="733.5" cy="330.3" r="9.4" stroke-width="1.0" fill="none"/>
<text x="733.5" y="335.91" font-family="&quot;Liberation Sans&quot;, sans-serif" font-size="15.79" font-weight="normal" text-anchor="middle" fill="#111" stroke="#111" stroke-width="0.15">9</text>
<path d="M761.3,326 C761,320 759,316.3 756.6,316.3 C753.6,316.3 751.3,323 751.3,332.5 C751.3,342 753.6,349 756.6,349 C759.2,349 761.2,343 761.7,337" stroke-width="1.1" fill="none" />
<path d="M759.7,324.2 L761.3,327.2 L762.8,324.4" stroke-width="1.1" fill="none" />
<line x1="752" y1="332.2" x2="771" y2="332.2" stroke-width="1.1"/>
<path d="M769.2,329.9 L773.2,332.2 L769.2,334.5 Z" stroke-width="0.6" fill="#1c1c1c" />
<path d="M849,313.6 C855,312.5 859,311 862.2,305.5 C865,299 868,290 875.4,281 C880,276.5 888,276.6 896,277.6 C905,279 914,281.6 922.4,280" stroke-width="1.8" fill="none" />
<path d="M863.3,327.3 C866,320 869,307 874,300.5 C879,292.5 886,289 894,288.2 C903,287.6 912,287.8 922.4,286.2" stroke-width="1.0" fill="none" />
<path d="M865.8,327.3 C868.5,320 871.5,308 876.3,301.8 C881,294.5 888,291 896,290.2 C905,289.6 913,289.3 918,290.5" stroke-width="1.0" fill="none" />
<path d="M911,288.2 C915,289 919,290 921.5,291.2 C923.5,292.3 923.2,290.6 924.5,290.4" stroke-width="1.1" fill="none" />
<path d="M922.4,274.2 L940,277.1 L940,285.9 L922.4,282.6 Z" stroke-width="1.0" fill="#2a2a2a" />
<path d="M940,277.1 L959.4,272 L959.4,280.4 L940,285.9 Z" stroke-width="1.2" fill="#fff" />
<path d="M922.4,274.2 L928,272.3 L953,268.8 L959.4,272 L940,277.1 Z" stroke-width="1.1" fill="#fff" />
<rect x="928.7" y="263.5" width="5.2" height="10.1" stroke-width="1.1" fill="#fff"/>
<ellipse cx="931.3" cy="263.5" rx="2.6" ry="1.3" fill="#2a2a2a" stroke-width="0.8"/>
<rect x="934.7" y="263.1" width="5.2" height="8.9" stroke-width="1.1" fill="#fff"/>
<ellipse cx="937.3" cy="263.1" rx="2.6" ry="1.3" fill="#2a2a2a" stroke-width="0.8"/>
<rect x="942" y="264.1" width="5.2" height="8.3" stroke-width="1.1" fill="#fff"/>
<ellipse cx="944.6" cy="264.1" rx="2.6" ry="1.3" fill="#2a2a2a" stroke-width="0.8"/>
<rect x="948.4" y="265.3" width="5.2" height="5.5" stroke-width="1.1" fill="#fff"/>
<ellipse cx="951" cy="265.3" rx="2.6" ry="1.3" fill="#2a2a2a" stroke-width="0.8"/>
<rect x="935.6" y="266.7" width="5.2" height="8.5" stroke-width="1.1" fill="#fff"/>
<ellipse cx="938.2" cy="266.7" rx="2.6" ry="1.3" fill="#2a2a2a" stroke-width="0.8"/>
<rect x="942.7" y="267.5" width="5.2" height="8.1" stroke-width="1.1" fill="#fff"/>
<ellipse cx="945.3" cy="267.5" rx="2.6" ry="1.3" fill="#2a2a2a" stroke-width="0.8"/>
<line x1="925.6" y1="276.2" x2="925.6" y2="282.6" stroke-width="0.8" stroke="#ccc"/>
<line x1="930.8" y1="276.2" x2="930.8" y2="282.6" stroke-width="0.8" stroke="#ccc"/>
<line x1="935.8" y1="276.2" x2="935.8" y2="282.6" stroke-width="0.8" stroke="#ccc"/>
<path d="M923.1,295.1 L943.3,299.6 L968.2,291.1 L948,286.7 Z" stroke-width="1.3" fill="#fff" />
<ellipse cx="946.2" cy="292.2" rx="1.4" ry="0.8" fill="#1c1c1c" stroke-width="0.6"/>
<circle cx="969.3" cy="309.8" r="9.3" stroke-width="1.0" fill="none"/>
<text x="969.3" y="315.35" font-family="&quot;Liberation Sans&quot;, sans-serif" font-size="15.62" font-weight="normal" text-anchor="middle" fill="#111" stroke="#111" stroke-width="0.15">8</text>
<path d="M1001.6,284.8 L961.6,276.8 L960.1,276.0 L995,263.9 C995.2,258 996.5,251 997.5,249.5 L998.2,248.42 A72.2,51.8 0 1 1 1005.07,288.6 L1001.6,284.8" stroke-width="1.3" fill="none" />
<line x1="1077.3" y1="212.2" x2="1080.6" y2="224" stroke-width="1.0"/>
<line x1="1079.3" y1="211.6" x2="1082.6" y2="223.4" stroke-width="1.0"/>
<path d="M1081.6,224.2 C1078,230 1070,245 1064.3,255.2" stroke-width="1.6" fill="none" />
<path d="M1081.6,225.0 C1080,232 1076,244 1070.2,255.2" stroke-width="1.6" fill="none" />
<path d="M1081.6,224.6 C1088,232 1091,246 1079.1,261.7" stroke-width="1.6" fill="none" />
<text x="1043.4" y="239" font-family="&quot;Liberation Sans&quot;, sans-serif" font-size="10.2" font-weight="normal" text-anchor="start" fill="#111" stroke="none">N</text>
<line x1="1051.5" y1="235.7" x2="1075.2" y2="235.7" stroke-width="1.1"/>
<circle cx="1049.1" cy="245.4" r="4.1" stroke-width="1.2" fill="none"/>
<line x1="1046.3" y1="244.4" x2="1051.9" y2="244.4" stroke-width="0.9"/>
<line x1="1046.3" y1="246.4" x2="1051.9" y2="246.4" stroke-width="0.9"/>
<line x1="1053.3" y1="244.6" x2="1077.1" y2="244.6" stroke-width="1.1"/>
<line x1="1089" y1="244.4" x2="1103" y2="244.4" stroke-width="1.1"/>
<path d="M1103.3,240.3 L1103.3,247.7 L1108.6,247.7" stroke-width="1.3" fill="none" />
<path d="M1048.1,265.6 L1065.3,269 L1065.3,278.4 L1048.1,274 Z" stroke-width="1.0" fill="#2a2a2a" />
<path d="M1065.3,269 L1084.5,264.1 L1084.5,272 L1065.3,278.4 Z" stroke-width="1.2" fill="#fff" />
<path d="M1048.1,265.6 L1054,263.4 L1078,261 L1084.5,264.1 L1065.3,269 Z" stroke-width="1.1" fill="#fff" />
<rect x="1053.8" y="255.8" width="5.4" height="9.2" stroke-width="1.1" fill="#fff"/>
<ellipse cx="1056.5" cy="255.8" rx="2.7" ry="1.3" fill="#2a2a2a" stroke-width="0.8"/>
<rect x="1060.6" y="255.4" width="5.4" height="9" stroke-width="1.1" fill="#fff"/>
<ellipse cx="1063.3" cy="255.4" rx="2.7" ry="1.3" fill="#2a2a2a" stroke-width="0.8"/>
<rect x="1067.5" y="256.4" width="5.4" height="8.2" stroke-width="1.1" fill="#fff"/>
<ellipse cx="1070.2" cy="256.4" rx="2.7" ry="1.3" fill="#2a2a2a" stroke-width="0.8"/>
<rect x="1073.2" y="257.4" width="5.4" height="6.4" stroke-width="1.1" fill="#fff"/>
<ellipse cx="1075.9" cy="257.4" rx="2.7" ry="1.3" fill="#2a2a2a" stroke-width="0.8"/>
<rect x="1061.1" y="258.8" width="5.4" height="8.6" stroke-width="1.1" fill="#fff"/>
<ellipse cx="1063.8" cy="258.8" rx="2.7" ry="1.3" fill="#2a2a2a" stroke-width="0.8"/>
<rect x="1068.1" y="259.6" width="5.4" height="7.6" stroke-width="1.1" fill="#fff"/>
<ellipse cx="1070.8" cy="259.6" rx="2.7" ry="1.3" fill="#2a2a2a" stroke-width="0.8"/>
<line x1="1051.4" y1="267.6" x2="1051.4" y2="274.4" stroke-width="0.8" stroke="#ccc"/>
<line x1="1056.6" y1="267.6" x2="1056.6" y2="274.4" stroke-width="0.8" stroke="#ccc"/>
<line x1="1061.6" y1="267.6" x2="1061.6" y2="274.4" stroke-width="0.8" stroke="#ccc"/>
<path d="M1049.8,275.6 C1051,285 1053,292 1055.5,299.6" stroke-width="1.5" fill="none" />
<path d="M1057.4,277.5 C1057,287 1056,293 1055.5,299.6" stroke-width="1.5" fill="none" />
<path d="M1063.6,278.2 C1062,287 1058,293 1055.5,299.6" stroke-width="1.5" fill="none" />
<line x1="1054.6" y1="299.6" x2="1058.4" y2="314" stroke-width="1.0"/>
<line x1="1056.6" y1="299.4" x2="1060.4" y2="313.8" stroke-width="1.0"/>
<text x="1025.6" y="283.8" font-family="&quot;Liberation Sans&quot;, sans-serif" font-size="10.2" font-weight="normal" text-anchor="start" fill="#111" stroke="none">N</text>
<line x1="1032.8" y1="280.4" x2="1048.6" y2="280.4" stroke-width="1.1"/>
<line x1="1064.8" y1="280.4" x2="1082.6" y2="280.4" stroke-width="1.1"/>
<path d="M1082.8,276.3 L1082.8,283.5 L1088.2,283.5" stroke-width="1.3" fill="none" />
<circle cx="1076.2" cy="285.8" r="4.1" stroke-width="1.2" fill="none"/>
<line x1="1073.4" y1="284.6" x2="1079" y2="284.6" stroke-width="0.9"/>
<line x1="1073.4" y1="286.6" x2="1079" y2="286.6" stroke-width="0.9"/>
<line x1="1057.4" y1="286.3" x2="1072.2" y2="286.3" stroke-width="1.1"/>
<path d="M1115.1,253.3 L1098.8,281.8 L1131.8,281.8 Z" stroke-width="1.4" fill="none" />
<path d="M1113.6,257.2 L1118.8,258.8 L1116.6,264.2 L1121.2,264.8 L1118.8,273.2 L1121,273.2 L1117.6,281 L1114.4,273 L1116.4,273 L1117.3,268.2 L1110.6,267.6 Z" stroke-width="0.5" fill="#1c1c1c" />
<rect x="818.9" y="403.4" width="49.8" height="19.1" stroke-width="1.4" fill="none"/>
<rect x="840.3" y="403.8" width="7.1" height="3.4" stroke-width="0" fill="#1c1c1c"/>
<rect x="841.2" y="407" width="5.6" height="11.4" stroke-width="1.0" fill="#fff"/>
<rect x="840.2" y="418.2" width="7.4" height="6.8" stroke-width="0.6" fill="#1c1c1c"/>
<rect x="819.6" y="408.2" width="6.2" height="9" stroke-width="0.6" fill="#1c1c1c"/>
<rect x="860.9" y="408.5" width="3" height="8.7" stroke-width="1.0" fill="#fff"/>
<rect x="864" y="409.2" width="2" height="7.2" stroke-width="0" fill="#1c1c1c"/>
<line x1="862.4" y1="417.2" x2="862.4" y2="428.2" stroke-width="1.1"/>
<path d="M825.8,411.6 C829.5,412.5 831.5,416 829.5,420.5 C827.5,423.5 820,424.2 812,425.4 C806,426.4 802,428.5 799.6,431.6" stroke-width="1.6" fill="none" />
<path d="M825.8,414.2 C828,415.5 829,418 827.6,420 C825,422.5 818,423.4 810,424.8 C806,425.6 803,427.5 800.6,430.4" stroke-width="1.2" fill="none" />
<path d="M840.6,411.5 C836,413 833,417 832,421 C830.5,426 825,428.6 816,430.2 C811,431.2 808.5,434.0 806.6,438.0" stroke-width="1.5" fill="none" />
<path d="M838.5,414 C835,416 834,419.5 833.2,423" stroke-width="1.0" fill="none" />
<path d="M860.6,411.2 C856,411.5 853,415 851,421 C849,428 845,432 838,432.6 C828,433.2 816,433.6 808.4,437.0" stroke-width="1.4" fill="none" />
<path d="M860.6,414.2 C857,414.6 855,417.5 853.4,422.5 C851.2,429.6 847,434.6 838.5,435 C828,435.4 817,435.6 807.6,439.4" stroke-width="1.4" fill="none" />
<path d="M796.5,428.0 L801.8,434.7 L794.1,438.4 L791.7,435.5 Z" stroke-width="0.8" fill="#111" />
<path d="M803.7,436.3 L809.5,441.9 L802.1,445.6 L799.4,443.2 Z" stroke-width="0.8" fill="#111" />
<circle cx="780.4" cy="451.8" r="9.3" stroke-width="1.0" fill="none"/>
<text x="780.4" y="457.35" font-family="&quot;Liberation Sans&quot;, sans-serif" font-size="15.62" font-weight="normal" text-anchor="middle" fill="#111" stroke="#111" stroke-width="0.15">5</text>
<path d="M879.4,420.8 C879.2,417 877.5,414.6 875.4,414.6 C872.4,414.6 870.2,421 870.2,428.8 C870.2,436.6 872.4,442.8 875.4,442.8 C877.5,442.8 879.4,440 879.8,434.8" stroke-width="1.1" fill="none" />
<path d="M877.9,419 L879.4,421.9 L880.9,419.2" stroke-width="1.1" fill="none" />
<line x1="870.6" y1="429.2" x2="887.5" y2="429.2" stroke-width="1.1"/>
<path d="M885.8,427 L889.8,429.2 L885.8,431.4 Z" stroke-width="0.6" fill="#1c1c1c" />
<circle cx="904.2" cy="429.2" r="9.3" stroke-width="1.0" fill="none"/>
<text x="904.2" y="434.75" font-family="&quot;Liberation Sans&quot;, sans-serif" font-size="15.62" font-weight="normal" text-anchor="middle" fill="#111" stroke="#111" stroke-width="0.15">4</text>
<rect x="818.4" y="457.8" width="50" height="3.2" stroke-width="1.1" fill="none"/>
<line x1="870.2" y1="460.2" x2="881.4" y2="460.2" stroke-width="1.0"/>
<path d="M884.2,447.6 L887.4,457.6 L885.5,457.6 L885.5,470.6 L882.9,470.6 L882.9,457.6 L881.0,457.6 Z" stroke-width="1.0" fill="#fff" />
<circle cx="902.2" cy="462.6" r="9.3" stroke-width="1.0" fill="none"/>
<text x="902.2" y="468.15" font-family="&quot;Liberation Sans&quot;, sans-serif" font-size="15.62" font-weight="normal" text-anchor="middle" fill="#111" stroke="#111" stroke-width="0.15">6</text>
<path d="M838.8,473.4 L848.8,473.4 C849.5,477.5 847,480.2 843.8,480.2 C840.6,480.2 838.1,477.5 838.8,473.4 Z" stroke-width="1.1" fill="none" />
<path d="M845.4,497.2 A14.4,4.8 0 1 1 837.2,497.2" stroke-width="1.2"/>
<path d="M843.2,496.9 L846.3,495.2 L846,498.9 Z" fill="#1c1c1c" stroke-width="0.5"/>
<line x1="842.2" y1="506.6" x2="842.2" y2="489.1" stroke-width="1.2"/>
<path d="M840.3,490.3 L842.2,486.9 L844.1,490.3 Z" fill="#1c1c1c" stroke-width="0.5"/>
<circle cx="872.2" cy="501.6" r="9.3" stroke-width="1.0" fill="none"/>
<text x="872.2" y="507.15" font-family="&quot;Liberation Sans&quot;, sans-serif" font-size="15.62" font-weight="normal" text-anchor="middle" fill="#111" stroke="#111" stroke-width="0.15">7</text>
<rect x="990.6" y="750.7" width="33.5" height="18.7" stroke-width="1.4" fill="none"/>
<path d="M1003.4,750.7 L1003,748.9 A4.3,4.3 0 1 1 1011.6,748.9 L1011.2,750.7" stroke-width="1.3"/>
<rect x="997.6" y="769.4" width="20.6" height="15.8" stroke-width="0" fill="#1c1c1c"/>
<line x1="997.8" y1="772.2" x2="1018" y2="772.2" stroke-width="0.7" stroke="#888"/>
<line x1="997.8" y1="775.4" x2="1018" y2="775.4" stroke-width="0.7" stroke="#888"/>
<line x1="997.8" y1="778.6" x2="1018" y2="778.6" stroke-width="0.7" stroke="#888"/>
<line x1="997.8" y1="781.8" x2="1018" y2="781.8" stroke-width="0.7" stroke="#888"/>
<g transform="translate(977.4 791.1) scale(0.06904 0.06952) translate(-75 -60)">
<path d="M90,60 L945,60 Q960,60 960,75 L960,340 C950,380 920,430 905,465 C950,520 965,560 962,620 C958,680 930,740 905,770 C930,810 960,840 960,880 L960,1110 L75,1110 L75,840 C90,800 98,760 96,700 C92,660 75,650 76,620 C78,580 110,560 110,530 C115,480 122,450 118,420 C108,360 75,330 75,290 L75,75 Q75,60 90,60 Z" stroke-width="1.4" vector-effect="non-scaling-stroke"/>
<path d="M110,530 C250,420 420,360 540,360 C580,365 575,395 550,420 C450,520 250,630 85,830" stroke-width="1.33" vector-effect="non-scaling-stroke"/>
<path d="M495,405 C380,460 250,540 160,640 C130,680 110,710 100,730" stroke-width="1.33" vector-effect="non-scaling-stroke"/>
<path d="M240,800 C200,790 220,760 260,730 C400,620 600,480 780,390 C830,370 860,380 845,420 C800,520 650,640 420,740 C340,775 280,805 240,800 Z" stroke-width="1.33" vector-effect="non-scaling-stroke"/>
<path d="M340,720 C480,680 650,600 800,430" stroke-width="1.33" vector-effect="non-scaling-stroke"/>
<path d="M905,465 C870,540 800,600 700,680 C620,740 560,800 600,815 C700,830 850,790 905,770" stroke-width="1.33" vector-effect="non-scaling-stroke"/>
<path d="M858,555 C860,650 820,740 610,800" stroke-width="1.33" vector-effect="non-scaling-stroke"/>
</g>
<line x1="1038.5" y1="825.6" x2="1048.8" y2="825.6" stroke-width="1.1"/>
<path d="M1051.7,812.8 L1054.3,821.6 L1052.8,821.6 L1052.8,835.4 L1050.6,835.4 L1050.6,821.6 L1049.1,821.6 Z" stroke-width="1.0" fill="#fff" />
<circle cx="1073.4" cy="828.2" r="9" stroke-width="1.0" fill="none"/>
<text x="1073.4" y="833.95" font-family="&quot;Liberation Sans&quot;, sans-serif" font-size="16.2" font-weight="normal" text-anchor="middle" fill="#111" stroke="#111" stroke-width="0.35" textLength="18" lengthAdjust="spacingAndGlyphs">10</text>
<path d="M991.2,884.8 L1022.1,884.8 L1019.5,890.1 L993.8,890.1 Z" stroke-width="0.8" fill="#1c1c1c" />
<line x1="994.5" y1="887.2" x2="1018.8" y2="887.2" stroke-width="0.9" stroke="#aaa"/>
<path d="M1045.2,883.42 A14.5,4.6 0 1 1 1036.4,883.42" stroke-width="1.2"/>
<path d="M1043,883.12 L1046.1,881.42 L1045.8,885.12 Z" fill="#1c1c1c" stroke-width="0.5"/>
<line x1="1041.4" y1="892.4" x2="1041.4" y2="875.1" stroke-width="1.2"/>
<path d="M1039.5,876.3 L1041.4,872.9 L1043.3,876.3 Z" fill="#1c1c1c" stroke-width="0.5"/>
<circle cx="1073.4" cy="884.6" r="9" stroke-width="1.0" fill="none"/>
<text x="1073.4" y="890.35" font-family="&quot;Liberation Sans&quot;, sans-serif" font-size="16.2" font-weight="normal" text-anchor="middle" fill="#111" stroke="#111" stroke-width="0.35" textLength="18" lengthAdjust="spacingAndGlyphs">11</text>
<circle cx="1010.5" cy="935.6" r="10.3" stroke-width="1.4" fill="none"/>
<path d="M1004.3,925.2 L1004.3,916.8 L1010.4,912.9 L1016.7,916.8 L1016.7,925.2 Z" stroke-width="0.6" fill="#111" />
<line x1="1005.4" y1="918.4" x2="1015.6" y2="918.4" stroke-width="0.5" stroke="#555"/>
<path d="M1006.0,925.6 L1006.2,930.6 L1005.0,932.0 L1007.4,938.0 L1008.6,940.4 L1010.5,938.4 L1012.4,940.4 L1013.6,938.0 L1016.0,932.0 L1014.8,930.6 L1015.0,925.6" stroke-width="1.3" fill="none" />
<path d="M1045.2,929.23 A14.5,4.8 0 1 1 1036.4,929.23" stroke-width="1.2"/>
<path d="M1043,928.93 L1046.1,927.23 L1045.8,930.93 Z" fill="#1c1c1c" stroke-width="0.5"/>
<line x1="1041.4" y1="938.6" x2="1041.4" y2="921.3" stroke-width="1.2"/>
<path d="M1039.5,922.5 L1041.4,919.1 L1043.3,922.5 Z" fill="#1c1c1c" stroke-width="0.5"/>
<circle cx="1073.4" cy="933.5" r="9" stroke-width="1.0" fill="none"/>
<text x="1073.4" y="939.25" font-family="&quot;Liberation Sans&quot;, sans-serif" font-size="16.2" font-weight="normal" text-anchor="middle" fill="#111" stroke="#111" stroke-width="0.35" textLength="18" lengthAdjust="spacingAndGlyphs">12</text>
<text x="1239.2" y="875.6" font-family="&quot;Liberation Sans&quot;, sans-serif" font-size="12.8" font-weight="bold" text-anchor="start" fill="#111" stroke="none" textLength="23" lengthAdjust="spacingAndGlyphs">120</text>
<line x1="1180.4" y1="879.4" x2="1330.7" y2="879.4" stroke-width="1.4"/>
<path d="M1180.4,879.4 L1180.4,925 Q1180.4,926.9 1182.4,926.9 L1328.7,926.9 Q1330.7,926.9 1330.7,925 L1330.7,879.4" stroke-width="1.4" fill="none" />
<line x1="1180.4" y1="902.2" x2="1330.7" y2="902.2" stroke-width="1.4"/>
<circle cx="1255.4" cy="910.4" r="4.1" stroke-width="1.3" fill="none"/>
<line x1="1164.5" y1="910.2" x2="1188" y2="910.2" stroke-width="1.1"/>
<rect x="1148.6" y="908" width="15.9" height="4.4" stroke-width="0" fill="#2a2a2a"/>
<line x1="1151" y1="908.2" x2="1151" y2="912.2" stroke-width="0.6" stroke="#999"/>
<line x1="1154" y1="908.2" x2="1154" y2="912.2" stroke-width="0.6" stroke="#999"/>
<line x1="1157" y1="908.2" x2="1157" y2="912.2" stroke-width="0.6" stroke="#999"/>
<line x1="1160" y1="908.2" x2="1160" y2="912.2" stroke-width="0.6" stroke="#999"/>
<line x1="1163" y1="908.2" x2="1163" y2="912.2" stroke-width="0.6" stroke="#999"/>
<ellipse cx="1147.4" cy="910.2" rx="1.6" ry="3.4" stroke="#bbb" stroke-width="0.8"/>
<line x1="1323.2" y1="910.2" x2="1345.6" y2="910.2" stroke-width="1.1"/>
<rect x="1345.6" y="908" width="17.7" height="4.4" stroke-width="0" fill="#2a2a2a"/>
<line x1="1348" y1="908.2" x2="1348" y2="912.2" stroke-width="0.6" stroke="#999"/>
<line x1="1351" y1="908.2" x2="1351" y2="912.2" stroke-width="0.6" stroke="#999"/>
<line x1="1354" y1="908.2" x2="1354" y2="912.2" stroke-width="0.6" stroke="#999"/>
<line x1="1357" y1="908.2" x2="1357" y2="912.2" stroke-width="0.6" stroke="#999"/>
<line x1="1360" y1="908.2" x2="1360" y2="912.2" stroke-width="0.6" stroke="#999"/>
<ellipse cx="1364.2" cy="910.2" rx="1.6" ry="3.4" stroke="#bbb" stroke-width="0.8"/>
<path d="M1380.14,913 A5.6,15.9 0 1 0 1380.6,904.5" stroke-width="1.2" fill="none" />
<path d="M1380.3,907.4 L1378.9,904.2 L1382.1,904.5 Z" stroke-width="0.5" fill="#111" />
<line x1="1402.5" y1="910.6" x2="1371.5" y2="910.6" stroke-width="1.1"/>
<path d="M1373.0,908.8 L1369.4,910.6 L1373.0,912.4 Z" stroke-width="0.6" fill="#1c1c1c" />
<circle cx="1387.5" cy="939.9" r="6.6" stroke-width="1.0" fill="none"/>
<text x="1387.5" y="943.84" font-family="&quot;Liberation Serif&quot;, sans-serif" font-size="11.09" font-weight="normal" text-anchor="middle" fill="#111" stroke="#111" stroke-width="0.15">9</text>
<path d="M1200.6,751.5 L1163.3,688.2 L1275.6,622.6 L1312.4,686.6" stroke-width="1.1" fill="none" />
<text x="1207.2" y="654.2" font-family="&quot;Liberation Sans&quot;, sans-serif" font-size="12.8" font-weight="bold" text-anchor="start" fill="#111" stroke="none" textLength="22.2" lengthAdjust="spacingAndGlyphs" transform="rotate(-30.3 1207.2 654.2)">115</text>
<path d="M1200.6,751.5 L1311.9,687.1 L1327.3,695.5 L1216,760.6 Z" stroke-width="1.1" fill="#fff" />
<line x1="1216" y1="762.8" x2="1327.3" y2="697.8" stroke-width="0.9" stroke="#666"/>
<path d="M1200.6,751.5 L1200.6,767.6 L1216,776.7 L1216,760.6" stroke-width="1.2" fill="none" />
<circle cx="1207.6" cy="765.3" r="2.8" stroke-width="0.9" fill="none"/>
<path d="M1327.3,695.5 L1327.3,710.9 L1316.8,705.6 L1316.8,701.5" stroke-width="1.2" fill="none" />
<ellipse cx="1251.7" cy="731.9" rx="4.3" ry="2.3" transform="rotate(-28 1251.7 731.9)" stroke-width="0.9"/>
<ellipse cx="1266.4" cy="722.1" rx="6.4" ry="3.1" transform="rotate(-28 1266.4 722.1)" stroke-width="0.9"/>
<ellipse cx="1233.6" cy="742.4" rx="3.4" ry="1.9" transform="rotate(30 1233.6 742.4)" stroke-width="1.5"/>
<ellipse cx="1296.5" cy="704.0" rx="3.4" ry="1.9" transform="rotate(30 1296.5 704.0)" stroke-width="1.5"/>
<path d="M1234.2,668.2 C1237.2,668.2 1237.8,670.2 1237.8,672.2 L1238.6,673.6 L1237.6,675.2 L1238.6,676.6 L1237.6,678.2 L1238.6,679.6 L1237.6,681.2 L1238.6,682.6 L1237.6,684.2 L1238.6,685.6 L1237.6,687.2 L1241.2,691.7 L1239.2,692.7 L1239.2,712.2 L1229.2,712.2 L1229.2,692.7 L1227.2,691.7 L1230.8,687.2 L1229.8,685.6 L1230.8,684.2 L1229.8,682.6 L1230.8,681.2 L1229.8,679.6 L1230.8,678.2 L1229.8,676.6 L1230.8,675.2 L1229.8,673.6 L1230.6,672.2 C1230.6,670.2 1231.2,668.2 1234.2,668.2 Z" stroke-width="1.1" fill="#fff" />
<line x1="1234.2" y1="670.2" x2="1234.2" y2="689.7" stroke-width="1.4"/>
<line x1="1234.2" y1="699.2" x2="1234.2" y2="712.2" stroke-width="1.0"/>
<ellipse cx="1234.2" cy="712.7" rx="6.2" ry="1.8" fill="#1c1c1c" stroke-width="0.6"/>
<line x1="1234.2" y1="714.2" x2="1234.2" y2="754.3" stroke-width="1.0"/>
<path d="M1234.2,754.3 L1235.8,758.3 L1236.4,779.6 L1232,779.6 L1232.6,758.3 Z" stroke-width="0.6" fill="#1c1c1c" />
<ellipse cx="1234.2" cy="781" rx="4.4" ry="2.3" fill="#1c1c1c" stroke-width="0.6"/>
<ellipse cx="1234.2" cy="780.2" rx="2.4" ry="0.7" fill="#fff" stroke="none"/>
<path d="M1296.5,631.6 C1299.5,631.6 1300.1,633.6 1300.1,635.6 L1300.9,637 L1299.9,638.6 L1300.9,640 L1299.9,641.6 L1300.9,643 L1299.9,644.6 L1300.9,646 L1299.9,647.6 L1300.9,649 L1299.9,650.6 L1303.5,655.1 L1301.5,656.1 L1301.5,675.6 L1291.5,675.6 L1291.5,656.1 L1289.5,655.1 L1293.1,650.6 L1292.1,649 L1293.1,647.6 L1292.1,646 L1293.1,644.6 L1292.1,643 L1293.1,641.6 L1292.1,640 L1293.1,638.6 L1292.1,637 L1292.9,635.6 C1292.9,633.6 1293.5,631.6 1296.5,631.6 Z" stroke-width="1.1" fill="#fff" />
<line x1="1296.5" y1="633.6" x2="1296.5" y2="653.1" stroke-width="1.4"/>
<line x1="1296.5" y1="662.6" x2="1296.5" y2="675.6" stroke-width="1.0"/>
<ellipse cx="1296.5" cy="676.1" rx="6.2" ry="1.8" fill="#1c1c1c" stroke-width="0.6"/>
<line x1="1296.5" y1="677.6" x2="1296.5" y2="720.7" stroke-width="1.0"/>
<path d="M1296.5,720.7 L1298.1,724.7 L1298.7,745.5 L1294.3,745.5 L1294.9,724.7 Z" stroke-width="0.6" fill="#1c1c1c" />
<ellipse cx="1296.5" cy="746.9" rx="4.4" ry="2.3" fill="#1c1c1c" stroke-width="0.6"/>
<ellipse cx="1296.5" cy="746.1" rx="2.4" ry="0.7" fill="#fff" stroke="none"/>
<line x1="1296.5" y1="749.5" x2="1296.5" y2="814.3" stroke-width="1.0"/>
<line x1="1194.3" y1="772.5" x2="1207.6" y2="765.3" stroke-width="1.0"/>
<g transform="rotate(-28 1186 777)"><rect x="1177" y="774.6" width="18" height="4.8" fill="#999" stroke="#333" stroke-width="0.8"/><rect x="1173.5" y="771.8" width="3.6" height="10.4" fill="#1c1c1c" stroke="none"/></g>
<line x1="1327.3" y1="696.8" x2="1333" y2="692.4" stroke-width="1.0"/>
<g transform="rotate(-33 1342 685)"><rect x="1332" y="682.6" width="17" height="4.8" fill="#999" stroke="#333" stroke-width="0.8"/><rect x="1349" y="679.8" width="3.6" height="10.4" fill="#1c1c1c" stroke="none"/></g>
<path d="M1302.4,834.8 A20.4,6.5 0 1 1 1290.2,834.8" stroke-width="1.2"/>
<path d="M1300.2,834.5 L1303.3,832.8 L1303,836.5 Z" fill="#1c1c1c" stroke-width="0.5"/>
<line x1="1297.3" y1="847.5" x2="1297.3" y2="822.9" stroke-width="1.2"/>
<path d="M1295.1,824.3 L1297.3,820.7 L1299.5,824.3" stroke-width="1.2"/>
<circle cx="1331.1" cy="841.5" r="6.8" stroke-width="1.0" fill="none"/>
<text x="1331.1" y="845.56" font-family="&quot;Liberation Sans&quot;, sans-serif" font-size="11.42" font-weight="normal" text-anchor="middle" fill="#111" stroke="#111" stroke-width="0.15">1</text>
</g>
</svg>
</body></html>
